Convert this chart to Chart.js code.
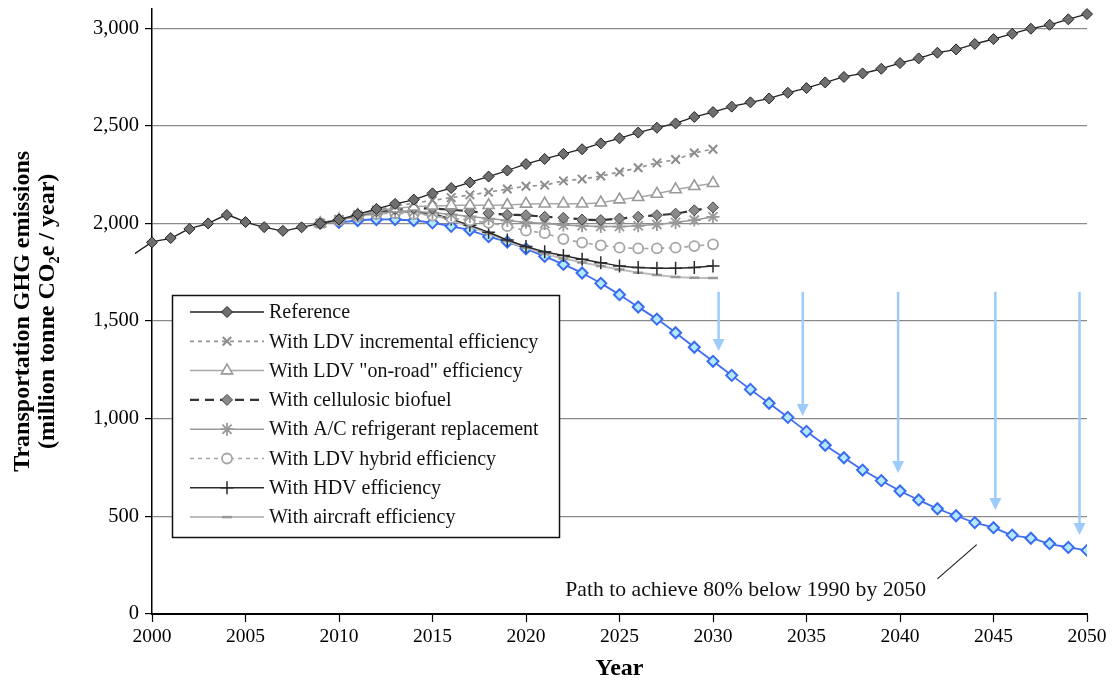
<!DOCTYPE html>
<html>
<head>
<meta charset="utf-8">
<script src="https://cdn.jsdelivr.net/npm/chart.js@4/dist/chart.umd.min.js"></script>
<style>
  html, body { margin: 0; padding: 0; background: #fff; }
  #wrap { width: 1113px; height: 681px; }
</style>
</head>
<body>
<div id="wrap"><canvas id="c" width="1113" height="681"></canvas></div>
<script>
// ---- data (million tonne CO2e / year) ----
const referenceStart = 1999;
const referenceValues = [1840, 1903, 1925, 1972, 2000, 2043, 2007, 1981, 1962, 1980, 2000,
  2020, 2047, 2074, 2100, 2122, 2154, 2181, 2210, 2240, 2271,
  2304, 2330, 2356, 2380, 2410, 2436, 2465, 2490, 2512, 2545,
  2570, 2598, 2620, 2640, 2669, 2693, 2722, 2750, 2768, 2792,
  2821, 2845, 2874, 2891, 2919, 2944, 2971, 2997, 3017, 3045, 3072];

const scenarioStart = 2009;
const ldvIncremental = [2000, 2020, 2045, 2068, 2088, 2104, 2118, 2132, 2146, 2160, 2176, 2190, 2196, 2218, 2227, 2243, 2263, 2285, 2310, 2327, 2361, 2380];
const ldvOnRoad      = [2000, 2020, 2042, 2062, 2076, 2085, 2090, 2092, 2093, 2093, 2094, 2100, 2101, 2101, 2101, 2106, 2122, 2134, 2151, 2174, 2190, 2206];
const cellulosic     = [2000, 2020, 2042, 2062, 2074, 2078, 2076, 2070, 2062, 2052, 2045, 2042, 2034, 2029, 2020, 2017, 2025, 2034, 2042, 2050, 2067, 2082];
const acRefrigerant  = [2000, 2018, 2038, 2052, 2060, 2060, 2055, 2046, 2036, 2025, 2015, 2006, 2000, 1992, 1988, 1984, 1984, 1988, 1995, 2005, 2017, 2034];
const ldvHybrid      = [2000, 2017, 2036, 2048, 2052, 2048, 2040, 2028, 2015, 2003, 1986, 1963, 1950, 1920, 1902, 1888, 1876, 1872, 1872, 1876, 1884, 1893];
const hdvEfficiency  = [2000, 2018, 2040, 2055, 2062, 2060, 2048, 2022, 1990, 1955, 1915, 1882, 1855, 1836, 1816, 1799, 1782, 1774, 1771, 1771, 1774, 1782];
const aircraftEff    = [2000, 2017, 2038, 2052, 2058, 2055, 2042, 2016, 1984, 1948, 1910, 1875, 1845, 1820, 1800, 1782, 1764, 1748, 1736, 1726, 1722, 1720];

const pathStart = 2010;
const pathValues = [2005, 2015, 2020, 2020, 2015, 2003, 1985, 1966, 1932, 1905,
  1870, 1831, 1790, 1746, 1693, 1635, 1572, 1510, 1440, 1366,
  1294, 1222, 1150, 1079, 1007, 935, 864, 800, 737, 683,
  630, 584, 539, 503, 468, 442, 404, 388, 360, 341, 326];

// reduction arrows: year, from value, to value
const arrowYears  = [2030.3, 2034.8, 2039.9, 2045.1, 2049.6];
const arrowTop    = [1650, 1650, 1650, 1650, 1650];
const arrowBottom = [1347, 1014, 722, 532, 404];

const xTicks = [2000, 2005, 2010, 2015, 2020, 2025, 2030, 2035, 2040, 2045, 2050];
const yTicks = [0, 500, 1000, 1500, 2000, 2500, 3000];

const noteText = 'Path to achieve 80% below 1990 by 2050';
const notePos = { x: 2022.1, y: 123 };
const noteLeader = { x1: 2042.0, y1: 180, x2: 2044.1, y2: 355 };

const SERIF = "'Liberation Serif', 'Times New Roman', serif";

function toPoints(start, values) {
  return values.map((v, i) => ({ x: start + i, y: v }));
}

const series = [
  { label: 'Reference', data: toPoints(referenceStart, referenceValues), legend: true,
    borderColor: '#222', borderWidth: 1.3, borderDash: [],
    pointStyle: 'rectRot', pointBackgroundColor: '#6f6f6f', pointBorderColor: '#222', pointBorderWidth: 1,
    radius: 5.5, clip: { left: 17, top: 10, right: 10, bottom: 10 } },
  { label: 'With LDV incremental efficiency', data: toPoints(scenarioStart, ldvIncremental), legend: true,
    borderColor: '#949494', borderWidth: 1.7, borderDash: [4, 4],
    pointStyle: 'crossRot', pointBackgroundColor: '#8c8c8c', pointBorderColor: '#8c8c8c', pointBorderWidth: 2,
    radius: 6 },
  { label: 'With LDV "on-road" efficiency', data: toPoints(scenarioStart, ldvOnRoad), legend: true,
    borderColor: '#a8a8a8', borderWidth: 1.5, borderDash: [],
    pointStyle: 'triangle', pointBackgroundColor: '#fff', pointBorderColor: '#999', pointBorderWidth: 1.6,
    radius: 6.5 },
  { label: 'With cellulosic biofuel', data: toPoints(scenarioStart, cellulosic), legend: true,
    borderColor: '#333', borderWidth: 2.2, borderDash: [9, 6],
    pointStyle: 'rectRot', pointBackgroundColor: '#8a8a8a', pointBorderColor: '#444', pointBorderWidth: 1,
    radius: 5.5 },
  { label: 'With A/C refrigerant replacement', data: toPoints(scenarioStart, acRefrigerant), legend: true,
    borderColor: '#9a9a9a', borderWidth: 1.5, borderDash: [],
    pointStyle: 'star', pointBackgroundColor: '#999', pointBorderColor: '#999', pointBorderWidth: 1.8,
    radius: 6.5 },
  { label: 'With LDV hybrid efficiency', data: toPoints(scenarioStart, ldvHybrid), legend: true,
    borderColor: '#a5a5a5', borderWidth: 1.6, borderDash: [4, 4],
    pointStyle: 'circle', pointBackgroundColor: '#fff', pointBorderColor: '#a5a5a5', pointBorderWidth: 1.8,
    radius: 5 },
  { label: 'With HDV efficiency', data: toPoints(scenarioStart, hdvEfficiency), legend: true,
    borderColor: '#2a2a2a', borderWidth: 1.5, borderDash: [],
    pointStyle: 'cross', pointBackgroundColor: '#2a2a2a', pointBorderColor: '#2a2a2a', pointBorderWidth: 1.5,
    radius: 6.5 },
  { label: 'With aircraft efficiency', data: toPoints(scenarioStart, aircraftEff), legend: true,
    borderColor: '#bdbdbd', borderWidth: 2, borderDash: [],
    pointStyle: 'line', pointBackgroundColor: '#999', pointBorderColor: '#999', pointBorderWidth: 2.5,
    radius: 5 },
  { label: 'Path to 80% below 1990', data: toPoints(pathStart, pathValues), legend: false,
    borderColor: '#3f6ef2', borderWidth: 1.8, borderDash: [],
    pointStyle: 'rectRot', pointBackgroundColor: '#b4e8ff', pointBorderColor: '#3a6cf2', pointBorderWidth: 2,
    radius: 5.5 }
];

const datasets = series.map(s => {
  const ds = {
    label: s.label,
    data: s.data,
    borderColor: s.borderColor,
    borderWidth: s.borderWidth,
    borderDash: s.borderDash,
    pointStyle: s.pointStyle,
    pointBackgroundColor: s.pointBackgroundColor,
    pointBorderColor: s.pointBorderColor,
    pointBorderWidth: s.pointBorderWidth,
    pointRadius: ctx => (ctx.raw && ctx.raw.x < 2000) ? 0 : s.radius,
    pointHoverRadius: s.radius,
    fill: false,
    tension: 0.15
  };
  if (s.clip) ds.clip = s.clip;
  return ds;
});

// reduction arrows (drawn under the series)
const arrowPlugin = {
  id: 'arrows',
  beforeDatasetsDraw(chart) {
    const { ctx, scales: { x, y } } = chart;
    ctx.save();
    ctx.strokeStyle = '#9dccfb';
    ctx.fillStyle = '#9dccfb';
    ctx.lineWidth = 2.5;
    arrowYears.forEach((yr, i) => {
      const px = x.getPixelForValue(yr);
      const y1 = y.getPixelForValue(arrowTop[i]);
      const y2 = y.getPixelForValue(arrowBottom[i]);
      ctx.beginPath();
      ctx.moveTo(px, y1);
      ctx.lineTo(px, y2 - 10);
      ctx.stroke();
      ctx.beginPath();
      ctx.moveTo(px - 6, y2 - 12);
      ctx.lineTo(px + 6, y2 - 12);
      ctx.lineTo(px, y2);
      ctx.closePath();
      ctx.fill();
    });
    ctx.restore();
  }
};

// note text with leader line, plus the boxed legend
const overlayPlugin = {
  id: 'overlay',
  afterDraw(chart) {
    const { ctx, scales: { x, y } } = chart;
    ctx.save();
    // note
    ctx.font = '21.7px ' + SERIF;
    ctx.fillStyle = '#111';
    ctx.textBaseline = 'middle';
    ctx.textAlign = 'left';
    ctx.fillText(noteText, x.getPixelForValue(notePos.x), y.getPixelForValue(notePos.y));
    ctx.strokeStyle = '#222';
    ctx.lineWidth = 1.2;
    ctx.beginPath();
    ctx.moveTo(x.getPixelForValue(noteLeader.x1), y.getPixelForValue(noteLeader.y1));
    ctx.lineTo(x.getPixelForValue(noteLeader.x2), y.getPixelForValue(noteLeader.y2));
    ctx.stroke();

    // legend box
    const bx = 172.5, by = 295.5, bw = 387, bh = 242;
    ctx.fillStyle = '#fff';
    ctx.fillRect(bx, by, bw, bh);
    ctx.strokeStyle = '#111';
    ctx.lineWidth = 1.5;
    ctx.strokeRect(bx, by, bw, bh);

    const items = series.filter(s => s.legend);
    const drawPoint = Chart.helpers && Chart.helpers.drawPoint;
    items.forEach((s, i) => {
      const ly = by + 16.5 + i * 29.3;
      ctx.save();
      ctx.strokeStyle = s.borderColor;
      ctx.lineWidth = s.borderWidth;
      ctx.setLineDash(s.borderDash || []);
      ctx.beginPath();
      ctx.moveTo(190, ly);
      ctx.lineTo(264, ly);
      ctx.stroke();
      ctx.setLineDash([]);
      ctx.fillStyle = s.pointBackgroundColor;
      ctx.strokeStyle = s.pointBorderColor;
      ctx.lineWidth = s.pointBorderWidth;
      if (drawPoint) {
        drawPoint(ctx, { pointStyle: s.pointStyle, rotation: 0, radius: s.radius, borderWidth: s.pointBorderWidth }, 227, ly);
      }
      ctx.restore();
      ctx.font = '20px ' + SERIF;
      ctx.fillStyle = '#111';
      ctx.textBaseline = 'middle';
      ctx.textAlign = 'left';
      ctx.fillText(s.label, 269, ly + 1);
    });
    ctx.restore();
  }
};

new Chart(document.getElementById('c'), {
  type: 'line',
  data: { datasets },
  plugins: [arrowPlugin, overlayPlugin],
  options: {
    responsive: false,
    animation: false,
    events: [],
    layout: { padding: { top: 8.6, right: 26, bottom: 0, left: 0 } },
    plugins: { legend: { display: false }, tooltip: { enabled: false } },
    scales: {
      x: {
        type: 'linear',
        min: 2000,
        max: 2050,
        afterFit(s) { s.height = 67; s.paddingLeft = 0; s.paddingRight = 0; },
        afterBuildTicks(s) { s.ticks = xTicks.map(v => ({ value: v })); },
        ticks: {
          color: '#000',
          font: { family: SERIF, size: 19.5 },
          padding: 3,
          maxRotation: 0,
          autoSkip: false,
          callback: v => String(v)
        },
        grid: { drawOnChartArea: false, drawTicks: true, tickLength: 8, tickColor: '#000', tickWidth: 1.2 },
        border: { color: '#000', width: 2 },
        title: {
          display: true, text: 'Year', color: '#000',
          font: { family: SERIF, size: 24, weight: 'bold' },
          padding: { top: 0, bottom: -2 }
        }
      },
      y: {
        min: 0,
        max: 3100,
        afterFit(s) { s.width = 152; s.paddingTop = 0; s.paddingBottom = 0; },
        afterBuildTicks(s) { s.ticks = yTicks.map(v => ({ value: v })); },
        ticks: {
          color: '#000',
          font: { family: SERIF, size: 20.5 },
          padding: 6,
          callback: v => v.toLocaleString('en-US')
        },
        grid: { color: '#8a8a8a', lineWidth: 1.2, tickLength: 7, tickColor: '#000', tickWidth: 1.2 },
        border: { color: '#000', width: 1.5 },
        title: {
          display: true,
          text: ['Transportation GHG emissions', '(million tonne CO\u2082e / year)'],
          color: '#000',
          font: { family: SERIF, size: 24, weight: 'bold', lineHeight: 1.05 },
          padding: { top: 10, bottom: 0 }
        }
      }
    }
  }
});
</script>
</body>
</html>
